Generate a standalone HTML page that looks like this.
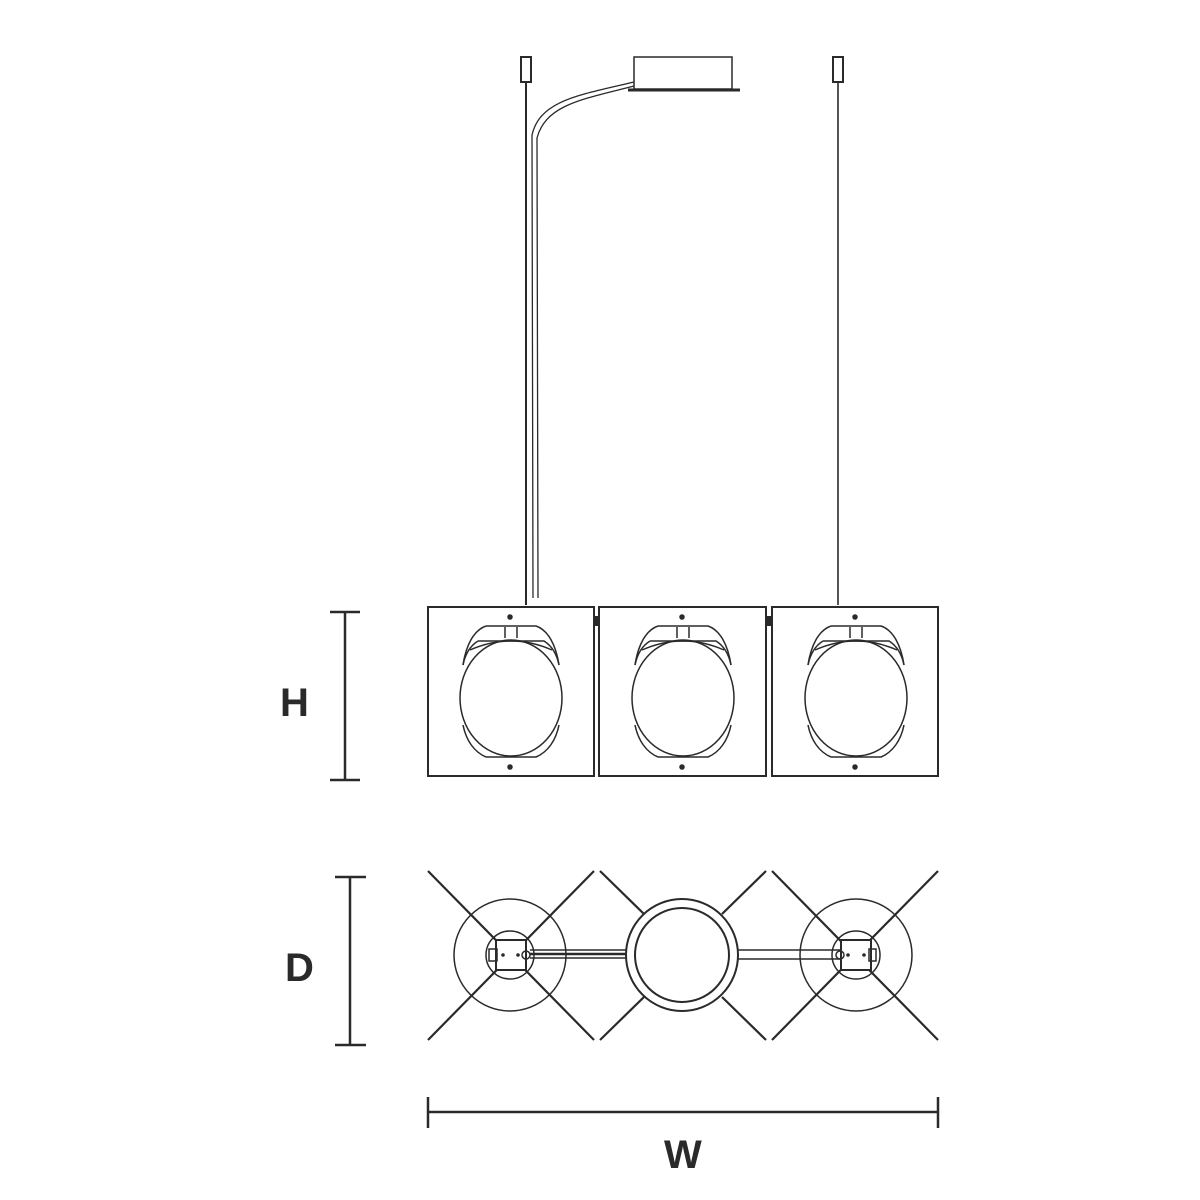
<!DOCTYPE html>
<html><head><meta charset="utf-8"><style>
html,body{margin:0;padding:0;background:#fff;width:1200px;height:1200px;overflow:hidden}
svg{display:block}
text{font-family:"Liberation Sans",sans-serif;font-weight:bold;font-size:40px;fill:#2a2a2a}
</style></head><body>
<svg width="1200" height="1200" viewBox="0 0 1200 1200" xmlns="http://www.w3.org/2000/svg">
<g fill="none" stroke="#2a2a2a" stroke-width="2">
<!-- ceiling parts -->
<rect x="521" y="57" width="10" height="25" stroke-width="2"/>
<rect x="833" y="57" width="10" height="25" stroke-width="2"/>
<line x1="526" y1="82" x2="526" y2="605"/>
<line x1="838" y1="82" x2="838" y2="605" stroke-width="1.6"/>
<rect x="634" y="57" width="98" height="32" stroke-width="1.5"/>
<line x1="628" y1="90" x2="740" y2="90" stroke-width="3"/>
<path d="M634 82 C580 95 540 100 532 135 L533 598" stroke-width="1.3"/>
<path d="M634 86 C584 99 546 104 537 138 L538 598" stroke-width="1.3"/>
<!-- front view boxes -->
<g stroke-width="2">
<rect x="428" y="607" width="166" height="169"/>
<rect x="599" y="607" width="167" height="169"/>
<rect x="772" y="607" width="166" height="169"/>
</g>
<line x1="596" y1="616" x2="596" y2="626" stroke-width="4"/>
<line x1="769" y1="616" x2="769" y2="626" stroke-width="4"/>
</g>
<g id="lamp" fill="none" stroke="#2a2a2a" stroke-width="1.5">
<ellipse cx="511" cy="698" rx="51" ry="58"/>
<path d="M486 626 L536 626 C548 630 556 645 559 665 M486 626 C474 630 466 645 463 665"/>
<path d="M478 641 L544 641 C552 646 557 655 559 665 M478 641 C470 646 465 655 463 665"/>
<path d="M470 650 Q511 632 552 650"/>
<path d="M486 757 L536 757 C548 752 556 740 559 725 M486 757 C474 752 466 740 463 725"/>
<line x1="505" y1="627" x2="505" y2="638"/><line x1="517" y1="627" x2="517" y2="638"/>
<circle cx="510" cy="617" r="2" fill="#2a2a2a"/>
<circle cx="510" cy="767" r="2" fill="#2a2a2a"/>
</g>
<use href="#lamp" x="172"/>
<use href="#lamp" x="345"/>
<!-- top view -->
<g fill="none" stroke="#2a2a2a" stroke-width="2.2">
<line x1="428" y1="871" x2="594" y2="1040"/><line x1="594" y1="871" x2="428" y2="1040"/>
<line x1="772" y1="871" x2="938" y2="1040"/><line x1="938" y1="871" x2="772" y2="1040"/>
<line x1="600" y1="871" x2="644" y2="914"/><line x1="766" y1="871" x2="722" y2="914"/>
<line x1="600" y1="1040" x2="644" y2="997"/><line x1="766" y1="1040" x2="722" y2="997"/>
</g>
<g fill="none" stroke="#2a2a2a" stroke-width="1.5">
<circle cx="510" cy="955" r="56"/>
<circle cx="510" cy="955" r="24"/>
<rect x="496" y="940" width="30" height="30" fill="#fff" stroke-width="2"/>
<rect x="489" y="949" width="8" height="12"/>
<circle cx="526" cy="955" r="4"/>
<line x1="530" y1="950" x2="630" y2="950"/><line x1="530" y1="958" x2="630" y2="958"/>
<line x1="530" y1="954" x2="630" y2="954" stroke-width="2.5"/>
<circle cx="682" cy="955" r="56" fill="#fff" stroke-width="2"/>
<circle cx="682" cy="955" r="47" stroke-width="2"/>
<line x1="738" y1="950" x2="840" y2="950"/><line x1="738" y1="959" x2="840" y2="959"/>
<circle cx="856" cy="955" r="56"/>
<circle cx="856" cy="955" r="24"/>
<rect x="841" y="940" width="30" height="30" fill="#fff" stroke-width="2"/>
<rect x="869" y="949" width="7" height="12"/>
<circle cx="840" cy="955" r="4"/>
</g>
<g fill="#2a2a2a"><circle cx="503" cy="955" r="1.8"/><circle cx="518" cy="955" r="1.8"/><circle cx="848" cy="955" r="1.8"/><circle cx="864" cy="955" r="1.8"/></g>
<!-- dimensions -->
<g stroke="#2a2a2a" stroke-width="2.5" fill="none">
<line x1="345" y1="612" x2="345" y2="780"/><line x1="330" y1="612" x2="360" y2="612"/><line x1="330" y1="780" x2="360" y2="780"/>
<line x1="350" y1="877" x2="350" y2="1045"/><line x1="335" y1="877" x2="366" y2="877"/><line x1="335" y1="1045" x2="366" y2="1045"/>
<line x1="428" y1="1112" x2="938" y2="1112"/><line x1="428" y1="1097" x2="428" y2="1128"/><line x1="938" y1="1097" x2="938" y2="1128"/>
</g>
<text x="280" y="716">H</text>
<text x="285" y="981">D</text>
<text x="664" y="1168">W</text>
</svg>
</body></html>
